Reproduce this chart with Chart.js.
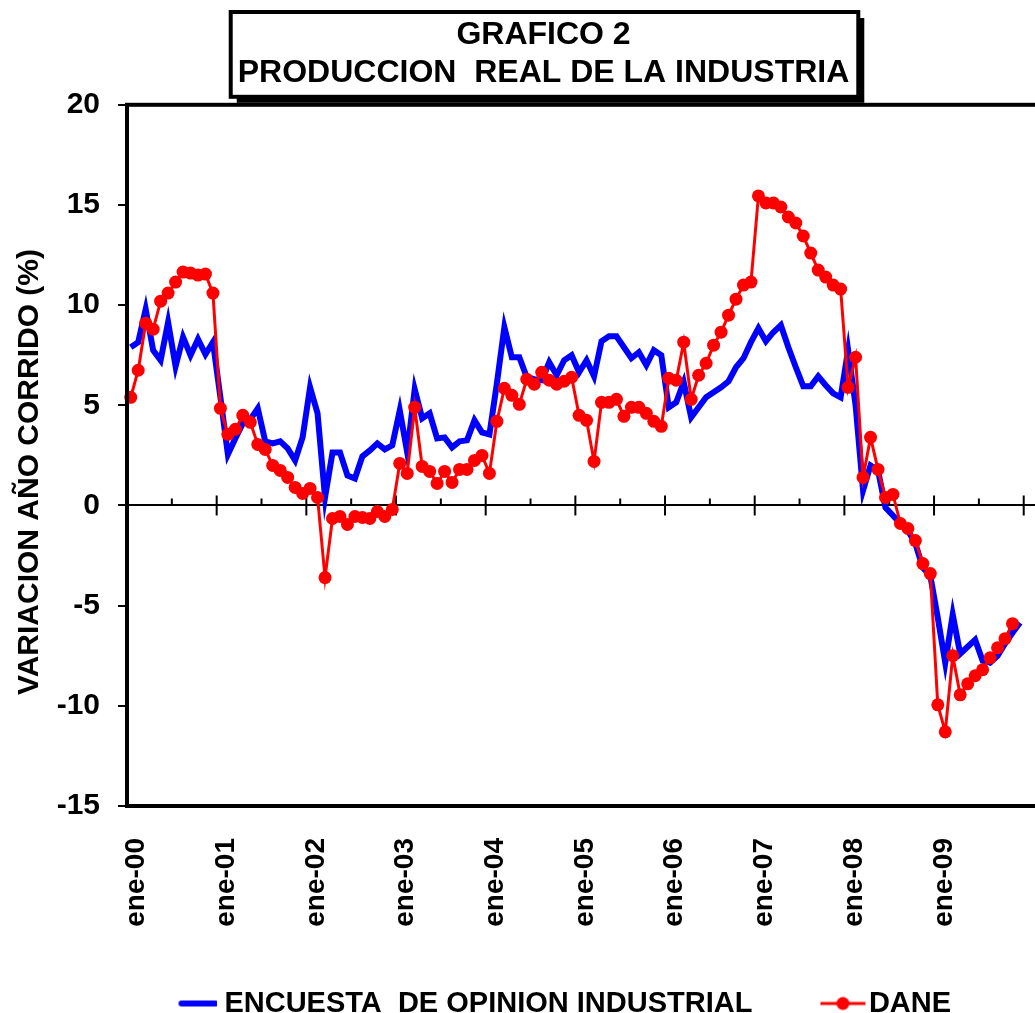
<!DOCTYPE html>
<html>
<head>
<meta charset="utf-8">
<script src="https://cdn.jsdelivr.net/npm/chart.js@4.4.1/dist/chart.umd.min.js"></script>
<style>
  html, body { margin: 0; padding: 0; background: #fff; overflow: hidden; }
  #wrap { width: 1035px; height: 1013px; overflow: hidden; }
</style>
</head>
<body>
<div id="wrap"><canvas id="chart" width="1090" height="1028"></canvas></div>
<script>
// month / year labels for the category axis (axis runs a bit past dic-09, like the cropped original)
const meses = ['ene', 'feb', 'mar', 'abr', 'may', 'jun', 'jul', 'ago', 'sep', 'oct', 'nov', 'dic'];
const anios = ['00', '01', '02', '03', '04', '05', '06', '07', '08', '09', '10'];

const titulo = ['GRAFICO 2', 'PRODUCCION  REAL DE LA INDUSTRIA'];
const ejeY = 'VARIACION AÑO CORRIDO (%)    ';

// Encuesta de opinion industrial, ene-00 .. dic-09
const encuesta = [
  7.9, 8.15, 9.8, 7.75, 7.25, 9.15, 6.95, 8.4, 7.5, 8.3, 7.55, 8.15,
  5.4, 2.55, 3.35, 4.1, 4.3, 4.85, 3.2, 3.1, 3.2, 2.85, 2.25, 3.4,
  5.9, 4.6, 0.4, 2.65, 2.65, 1.5, 1.35, 2.45, 2.75, 3.1, 2.8, 3.0,
  4.75, 2.65, 5.8, 4.35, 4.6, 3.35, 3.4, 2.9, 3.2, 3.25, 4.25, 3.65,
  3.55, 6.1, 8.9, 7.4, 7.4, 6.4, 6.3, 6.25, 7.15, 6.5, 7.25, 7.5,
  6.65, 7.25, 6.45, 8.2, 8.45, 8.45, 7.9, 7.35, 7.65, 7.0, 7.75, 7.5,
  4.9, 5.15, 6.15, 4.4, 4.9, 5.4, 5.65, 5.9, 6.2, 6.9, 7.35, 8.15,
  8.85, 8.2, 8.65, 9.0, 7.9, 6.9, 5.95, 5.95, 6.45, 6.0, 5.6, 5.4,
  7.75, 5.0, 0.75, 2.0, 1.75, -0.1, -0.5, -0.9, -1.25, -1.9, -3.1, -3.5,
  -5.6, -7.85, -5.45, -7.4, -7.05, -6.7, -7.75, -7.85, -7.5, -6.9, -6.35, -5.85
];

// DANE, ene-00 .. nov-09
const dane = [
  5.4, 6.75, 9.1, 8.8, 10.2, 10.6, 11.15, 11.65, 11.6, 11.5, 11.55, 10.6,
  4.85, 3.55, 3.8, 4.5, 4.15, 3.05, 2.8, 2.0, 1.75, 1.4, 0.9, 0.6,
  0.85, 0.4, -3.6, -0.65, -0.55, -0.95, -0.55, -0.6, -0.65, -0.3, -0.55, -0.2,
  2.1, 1.6, 4.9, 1.95, 1.7, 1.1, 1.7, 1.15, 1.8, 1.8, 2.25, 2.5,
  1.6, 4.2, 5.85, 5.5, 5.05, 6.3, 6.05, 6.65, 6.25, 6.05, 6.2, 6.4,
  4.5, 4.25, 2.2, 5.15, 5.15, 5.3, 4.45, 4.9, 4.9, 4.6, 4.2, 3.95,
  6.35, 6.25, 8.15, 5.3, 6.5, 7.1, 8.0, 8.65, 9.5, 10.3, 11.0, 11.15,
  15.45, 15.1, 15.1, 14.9, 14.4, 14.1, 13.45, 12.6, 11.75, 11.4, 11.0, 10.8,
  5.9, 7.4, 1.4, 3.4, 1.8, 0.4, 0.55, -0.9, -1.15, -1.75, -2.9, -3.4,
  -9.95, -11.3, -7.5, -9.45, -8.9, -8.5, -8.2, -7.6, -7.1, -6.65, -5.9, null
];

const AZUL = '#0000FF';
const ROJO = '#FF0000';
const FONT = "'Liberation Sans', Arial, sans-serif";

// build the month labels: ene-00, feb-00, ... ago-10
const etiquetas = [];
anios.forEach(a => meses.forEach(m => etiquetas.push(m + '-' + a)));
etiquetas.length = 128;

// small images for the legend samples (drawn right of the legend box centre)
function muestra(color, desde, hasta, grosor, punto) {
  const c = document.createElement('canvas');
  const mid = hasta + 2;
  c.width = mid * 2;
  c.height = 16;
  const g = c.getContext('2d');
  g.strokeStyle = color;
  g.lineWidth = grosor;
  g.lineCap = punto ? 'butt' : 'round';
  g.beginPath();
  g.moveTo(mid + desde, 8);
  g.lineTo(mid + hasta, 8);
  g.stroke();
  if (punto) {
    g.fillStyle = color;
    g.beginPath();
    g.arc(mid + (desde + hasta) / 2, 8, 6.5, 0, Math.PI * 2);
    g.fill();
  }
  return c;
}
const muestraAzul = muestra(AZUL, 8.5, 42.5, 6, false);
const muestraRoja = muestra(ROJO, 3, 48, 3, true);

// box with shadow around the title
const cajaTitulo = {
  id: 'cajaTitulo',
  beforeDraw(chart) {
    const tb = chart.titleBlock;
    const ctx = chart.ctx;
    ctx.save();
    ctx.font = 'bold 32px ' + FONT;
    const w = Math.max(...titulo.map(t => ctx.measureText(t).width)) + 16;
    const cx = (tb.left + tb.right) / 2 + 1;
    const top = tb.top + 12;
    const h = tb.bottom - 8 - top;
    ctx.fillStyle = '#000';
    ctx.fillRect(cx - w / 2 + 6, top + 6, w, h);
    ctx.fillStyle = '#fff';
    ctx.fillRect(cx - w / 2, top, w, h);
    ctx.lineWidth = 4;
    ctx.strokeStyle = '#000';
    ctx.strokeRect(cx - w / 2, top, w, h);
    ctx.restore();
  }
};

// tick marks on the zero line (years long, half years short) and the plot frame
const marcasCero = {
  id: 'marcasCero',
  beforeDatasetsDraw(chart) {
    const x = chart.scales.x;
    const y0 = chart.scales.y.getPixelForValue(0);
    const ctx = chart.ctx;
    ctx.save();
    ctx.strokeStyle = '#000';
    ctx.lineWidth = 2;
    for (let i = 0; i <= etiquetas.length; i += 6) {
      const px = x.getPixelForValue(i - 0.5);
      if (px > chart.chartArea.right) break;
      ctx.beginPath();
      if (i % 12 === 0) {
        ctx.moveTo(px, y0 - 10);
        ctx.lineTo(px, y0 + 10);
      } else {
        ctx.moveTo(px, y0 - 7);
        ctx.lineTo(px, y0);
      }
      ctx.stroke();
    }
    ctx.restore();
  },
  afterDatasetsDraw(chart) {
    const a = chart.chartArea;
    const ctx = chart.ctx;
    ctx.save();
    ctx.strokeStyle = '#000';
    ctx.lineWidth = 4;
    ctx.strokeRect(a.left, a.top, a.right - a.left, a.bottom - a.top);
    ctx.restore();
  }
};

new Chart(document.getElementById('chart'), {
  type: 'line',
  data: {
    labels: etiquetas,
    datasets: [
      {
        label: 'ENCUESTA  DE OPINION INDUSTRIAL',
        data: encuesta,
        borderColor: AZUL,
        backgroundColor: AZUL,
        borderWidth: 6,
        pointRadius: 0,
        tension: 0,
        order: 2
      },
      {
        label: 'DANE',
        data: dane,
        borderColor: ROJO,
        backgroundColor: ROJO,
        borderWidth: 3,
        pointRadius: 6.5,
        pointBorderWidth: 0,
        pointBackgroundColor: ROJO,
        tension: 0,
        order: 1
      }
    ]
  },
  options: {
    responsive: false,
    animation: false,
    layout: { padding: { left: 0, right: 3, top: 0, bottom: 0 } },
    plugins: {
      title: {
        display: true,
        text: titulo,
        color: '#000',
        font: { family: FONT, size: 32, weight: 'bold', lineHeight: 1.2 },
        padding: { top: 16, bottom: 12 }
      },
      legend: {
        position: 'bottom',
        labels: {
          color: '#000',
          font: { family: FONT, size: 29, weight: 'bold' },
          usePointStyle: true,
          pointStyleWidth: 74,
          padding: 28,
          sort: (a, b) => a.datasetIndex - b.datasetIndex,
          generateLabels(chart) {
            const items = Chart.defaults.plugins.legend.labels.generateLabels(chart);
            items.forEach(it => {
              it.pointStyle = it.datasetIndex === 0 ? muestraAzul : muestraRoja;
            });
            return items;
          }
        }
      },
      tooltip: { enabled: false }
    },
    scales: {
      x: {
        type: 'category',
        offset: true,
        grid: { display: false, drawTicks: false },
        border: { display: false },
        ticks: {
          autoSkip: false,
          minRotation: 90,
          maxRotation: 90,
          padding: 32,
          labelOffset: 6,
          color: '#000',
          font: { family: FONT, size: 28, weight: 'bold' },
          callback: (v, i) => (i % 12 === 0 && i < 120 ? etiquetas[i] : '')
        },
        afterFit: s => {
          s.height = 155;
          s.paddingLeft = 0;
          s.paddingRight = 0;
        }
      },
      y: {
        min: -15,
        max: 20,
        ticks: {
          stepSize: 5,
          padding: 18,
          color: '#000',
          font: { family: FONT, size: 30, weight: 'bold' }
        },
        grid: {
          color: c => (c.tick && c.tick.value === 0 ? '#000' : 'rgba(0,0,0,0)'),
          lineWidth: 2,
          tickColor: '#000',
          tickLength: 9
        },
        border: { display: false },
        title: {
          display: true,
          text: ejeY,
          color: '#000',
          font: { family: FONT, size: 30, weight: 'bold', lineHeight: 1.2 },
          padding: { top: 12, bottom: 0 }
        },
        afterFit: s => { s.width = 127; }
      }
    }
  },
  plugins: [cajaTitulo, marcasCero]
});
</script>
</body>
</html>
